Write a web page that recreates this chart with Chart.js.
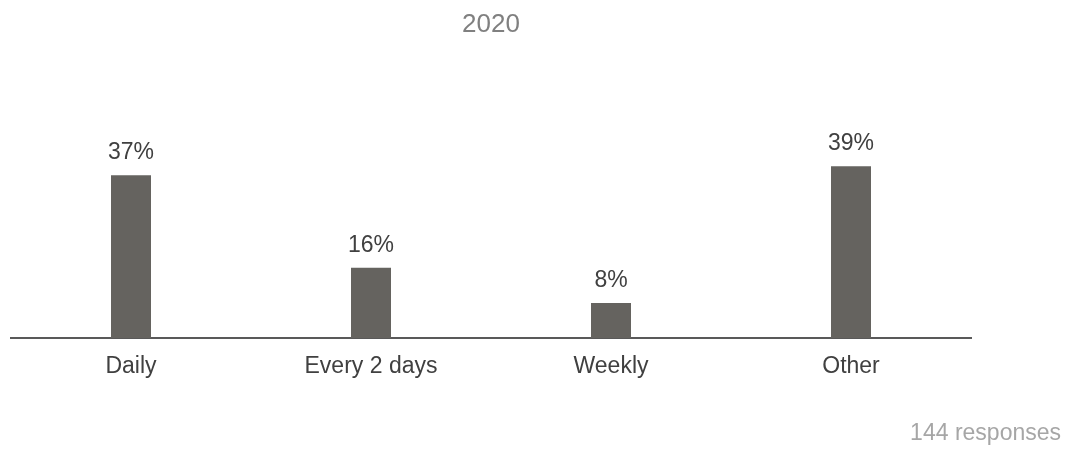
<!DOCTYPE html>
<html>
<head>
<meta charset="utf-8">
<title>2020</title>
<script src="https://cdn.jsdelivr.net/npm/chart.js@4/dist/chart.umd.min.js"></script>
<style>
  html, body { margin: 0; padding: 0; background: #fff; }
  #wrap { width: 1066px; height: 455px; position: relative; }
</style>
</head>
<body>
<div id="wrap"><canvas id="myChart" width="1066" height="455"></canvas></div>
<script>
// Les données du graphique
const categories = ['Daily', 'Every 2 days', 'Weekly', 'Other'];
const percentages = [37, 16, 8, 39];
const chartTitle = '2020';
const footnote = '144 responses';

const labelFont = '"Liberation Sans", Arial, Helvetica, sans-serif';

// Étiquettes de valeur au-dessus des barres
const valueLabels = {
    id: 'valueLabels',
    afterDatasetsDraw(chart) {
        const ctx = chart.ctx;
        const meta = chart.getDatasetMeta(0);
        ctx.save();
        ctx.font = '23px ' + labelFont;
        ctx.fillStyle = '#404040';
        ctx.textAlign = 'center';
        ctx.textBaseline = 'alphabetic';
        meta.data.forEach((bar, i) => {
            ctx.fillText(percentages[i] + '%', bar.x, bar.y - 16);
        });
        ctx.restore();
    }
};

// Le nombre de réponses en bas à droite
const footnoteText = {
    id: 'footnoteText',
    afterDraw(chart) {
        const ctx = chart.ctx;
        ctx.save();
        ctx.font = '23px ' + labelFont;
        ctx.fillStyle = '#a6a6a6';
        ctx.textAlign = 'right';
        ctx.textBaseline = 'alphabetic';
        ctx.fillText(footnote, 1061, 440);
        ctx.restore();
    }
};

const ctx = document.getElementById('myChart').getContext('2d');
const myChart = new Chart(ctx, {
    type: 'bar',
    data: {
        labels: categories,
        datasets: [{
            data: percentages,
            backgroundColor: '#65635f',
            borderWidth: 0,
            categoryPercentage: 1,
            barPercentage: 40 / 240
        }]
    },
    options: {
        responsive: false,
        animation: false,
        layout: {
            padding: { left: 11, right: 95, top: 0, bottom: 59.1 }
        },
        plugins: {
            legend: { display: false },
            tooltip: { enabled: false },
            title: {
                display: true,
                text: chartTitle,
                color: '#808080',
                font: { family: labelFont, size: 26, weight: 'normal' },
                padding: { top: 9, bottom: 77.6 }
            }
        },
        scales: {
            x: {
                grid: { display: false, drawTicks: false },
                border: { display: true, color: '#595959', width: 2 },
                ticks: {
                    color: '#404040',
                    padding: 15,
                    font: { family: labelFont, size: 23 }
                }
            },
            y: {
                display: false,
                min: 0,
                max: 50
            }
        }
    },
    plugins: [valueLabels, footnoteText]
});
</script>
</body>
</html>
